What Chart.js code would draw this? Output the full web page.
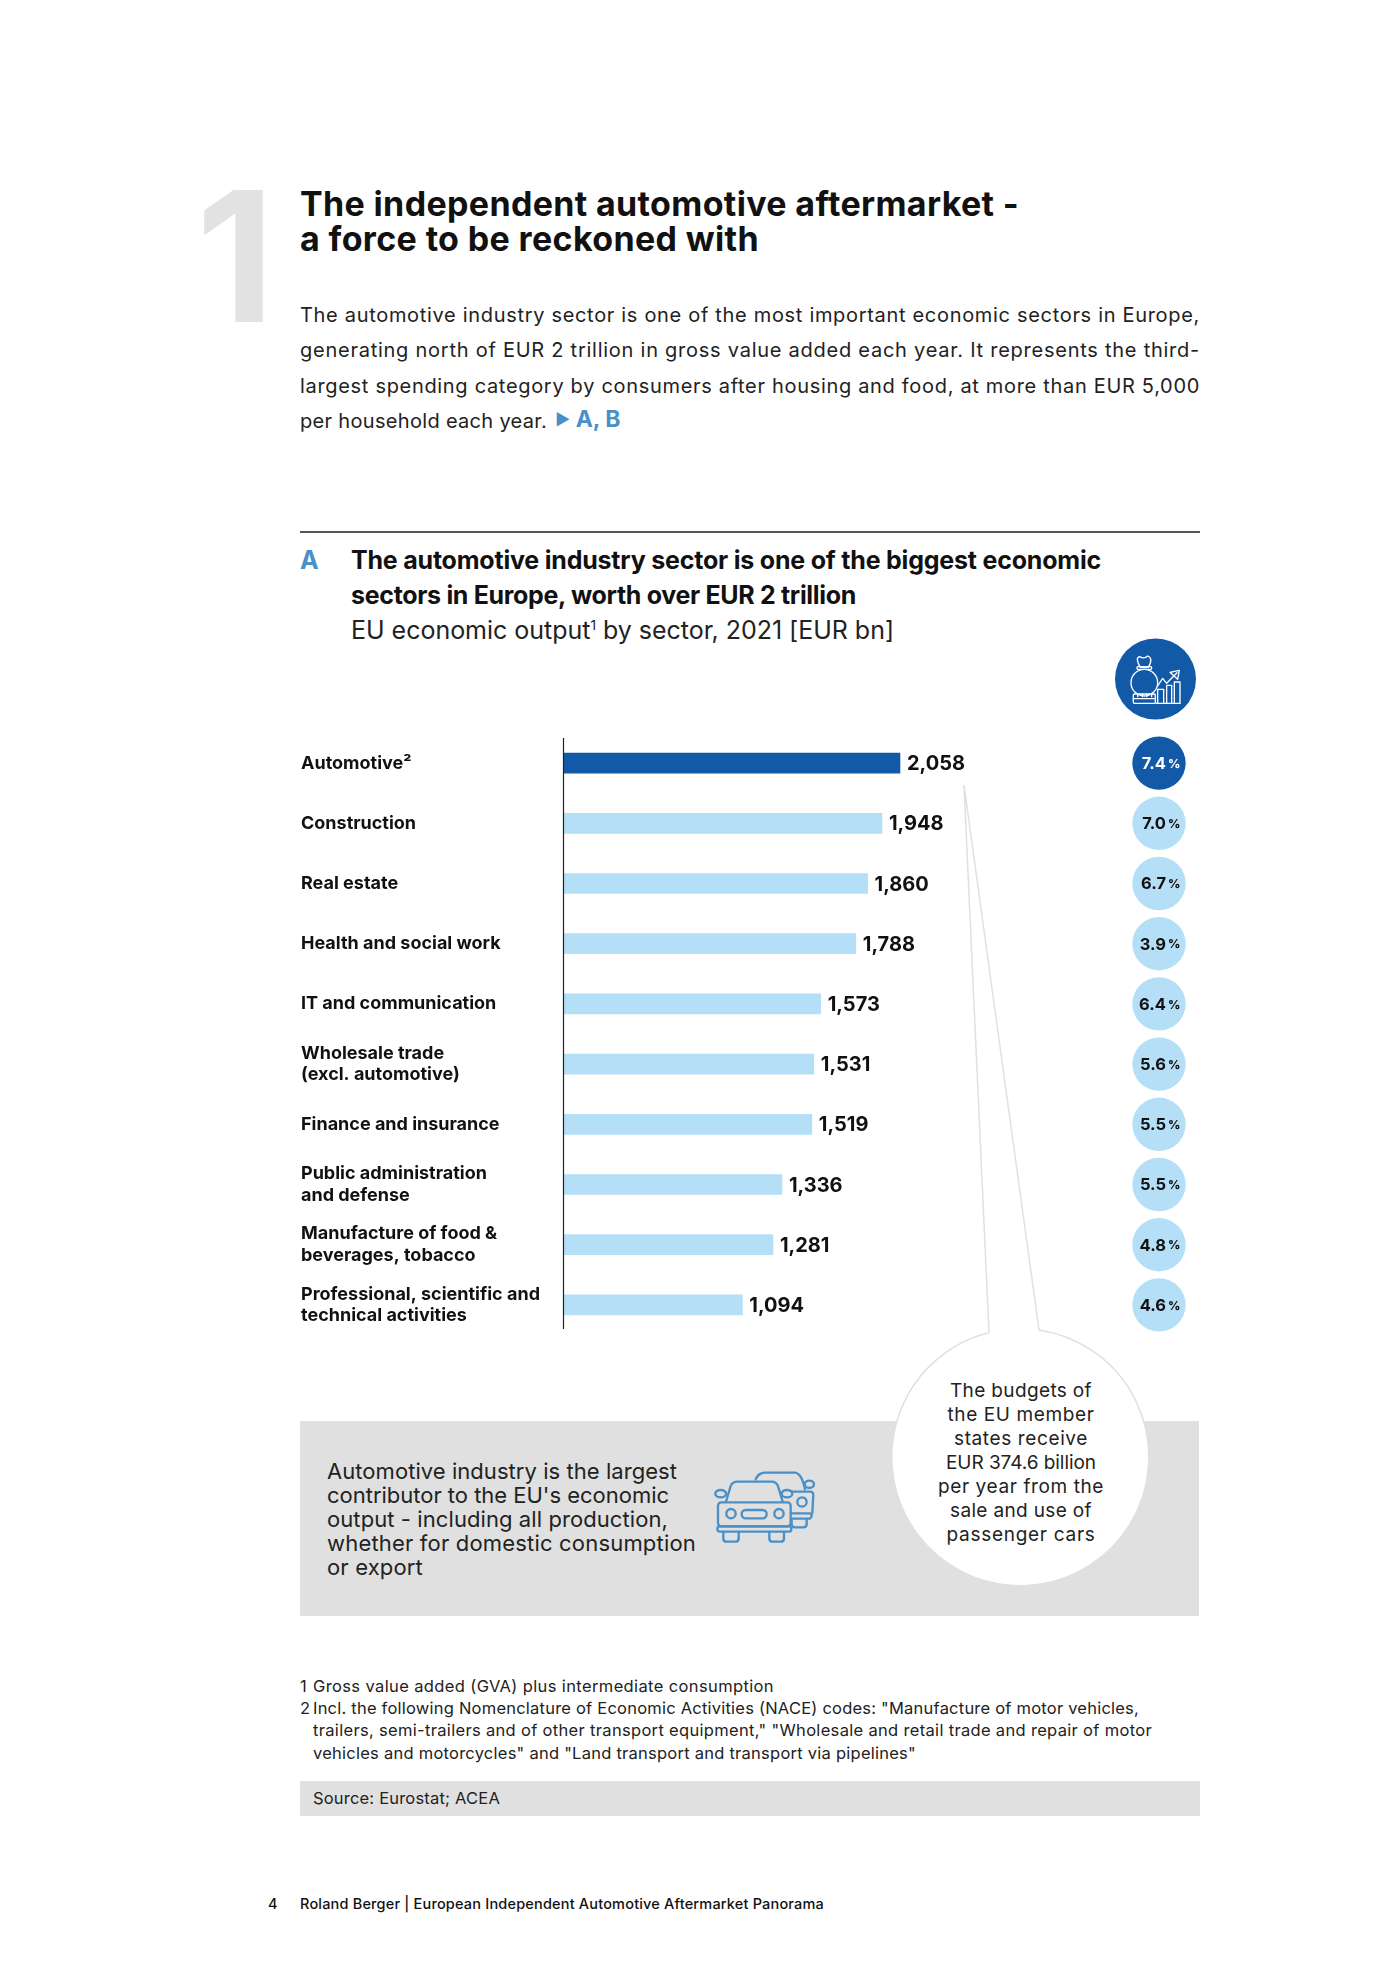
<!DOCTYPE html>
<html>
<head>
<meta charset="utf-8">
<script src="https://cdn.jsdelivr.net/npm/chart.js@4"></script>
<style>
html,body{margin:0;padding:0;background:#fff;}
body{width:1400px;height:1980px;position:relative;overflow:hidden;font-family:Inter,sans-serif;color:#222;}
.t{position:absolute;white-space:nowrap;line-height:1;transform:translateY(-50%);}
.c{transform:translate(-50%,-50%);}
.box{position:absolute;background:#e0e0e0;}
svg{position:absolute;left:0;top:0;}
canvas{position:absolute;left:290px;top:700px;}
sup{font-size:.55em;line-height:0;vertical-align:.6em;}
</style>
</head>
<body>

<div class="t" style="left:196px;top:256px;font-size:182px;font-weight:700;color:#e2e2e2" id="bigOne">1</div>

<div class="t" data-w="719" style="left:300px;top:204px;font-size:34px;font-weight:700;color:#111">The independent automotive aftermarket -</div>
<div class="t" data-w="459" style="left:300px;top:239px;font-size:34px;font-weight:700;color:#111">a force to be reckoned with</div>

<div class="t" data-w="900" style="left:300px;top:315px;font-size:20px">The automotive industry sector is one of the most important economic sectors in Europe,</div>
<div class="t" data-w="900" style="left:300px;top:350px;font-size:20px">generating north of EUR 2 trillion in gross value added each year. It represents the third-</div>
<div class="t" data-w="900" style="left:300px;top:385.5px;font-size:20px">largest spending category by consumers after housing and food, at more than EUR 5,000</div>
<div class="t" data-w="247" style="left:300px;top:420.5px;font-size:20px">per household each year.</div>
<div class="t" style="left:555px;top:419px;font-size:23px;font-weight:700;color:#4a90c8"><span style="font-size:16px;vertical-align:2px">&#9654;</span> A, B</div>

<div style="position:absolute;left:300px;top:531px;width:900px;height:1.5px;background:#555"></div>
<div class="t" style="left:300px;top:560px;font-size:25px;font-weight:700;color:#4a90c8">A</div>
<div class="t" data-w="750" style="left:351px;top:560px;font-size:25px;font-weight:700;color:#111">The automotive industry sector is one of the biggest economic</div>
<div class="t" data-w="505" style="left:351px;top:595px;font-size:25px;font-weight:700;color:#111">sectors in Europe, worth over EUR 2 trillion</div>
<div class="t" data-w="543" style="left:351px;top:630px;font-size:25px">EU economic output<sup>1</sup> by sector, 2021 [EUR bn]</div>

<div class="box" style="left:300px;top:1421px;width:899px;height:195px"></div>
<div class="t" data-w="350" style="left:327px;top:1470.5px;font-size:22px">Automotive industry is the largest</div>
<div class="t" data-w="342" style="left:327px;top:1494.5px;font-size:22px">contributor to the EU's economic</div>
<div class="t" data-w="341" style="left:327px;top:1518.5px;font-size:22px">output - including all production,</div>
<div class="t" data-w="369" style="left:327px;top:1542.5px;font-size:22px">whether for domestic consumption</div>
<div class="t" data-w="96" style="left:327px;top:1566.5px;font-size:22px">or export</div>

<svg width="1400" height="1980" fill="none">
  <!-- callout -->
  <path d="M964 785 L989 1332.5 A128.5 128.5 0 1 0 1039 1330 Z" fill="#fff" stroke="#e0e0e0" stroke-width="1.5"/>
  <!-- money icon -->
  <circle cx="1155.5" cy="679" r="40.5" fill="#1259a8"/>
  <g transform="translate(1001,620) scale(0.3333)" stroke="#fff" stroke-width="4" stroke-linejoin="round" stroke-linecap="round">
    <circle cx="430" cy="188" r="40"/>
    <path d="M418 142 Q402 115 415 110 Q430 118 440 108 Q458 115 442 142 Z"/>
    <rect x="408" y="140" width="44" height="8" rx="3"/>
    <rect x="397" y="222" width="66" height="28" rx="3"/>
    <path d="M397 236 H463 M410 222 V230 M424 222 V230 M438 222 V230 M452 222 V230"/>
    <path d="M470 250 V208 H488 V250 M497 250 V196 H512 V250 M520 250 V186 H537 V250 M465 250 H538"/>
    <path d="M470 198 L485 175 L497 190 L528 158"/>
    <path d="M507 157 L535 151 L530 178 Z"/>
  </g>
  <!-- car icon -->
  <g transform="translate(690,1450) scale(0.3333)" stroke="#4a90c8" stroke-width="7" stroke-linejoin="round" stroke-linecap="round">
    <path d="M108 155 L122 108 Q128 95 142 95 H245 Q258 95 264 108 L278 155"/>
    <rect x="84" y="157" width="218" height="72" rx="10"/>
    <rect x="82" y="229" width="222" height="16" rx="8"/>
    <path d="M100 246 V266 Q100 275 110 275 H136 Q146 275 146 266 V246 M238 246 V266 Q238 275 248 275 H272 Q282 275 282 266 V246"/>
    <ellipse cx="92" cy="131" rx="16" ry="11"/>
    <ellipse cx="291" cy="131" rx="16" ry="11"/>
    <circle cx="123" cy="191" r="14"/>
    <circle cx="267" cy="191" r="14"/>
    <rect x="155" y="180" width="75" height="25" rx="12"/>
    <path d="M197 88 Q205 68 225 68 H315 Q335 70 345 118"/>
    <ellipse cx="358" cy="103" rx="14" ry="11"/>
    <path d="M305 125 H360 Q370 125 370 135 L367 190"/>
    <circle cx="336" cy="156" r="14"/>
    <path d="M305 190 H360 Q370 198 360 206 H305"/>
    <path d="M305 207 V223 Q305 232 315 232 H340 Q350 232 350 223 V207"/>
  </g>
</svg>

<div class="t c" data-w="142" style="left:1021px;top:1390px;font-size:19px">The budgets of</div>
<div class="t c" data-w="147" style="left:1021px;top:1414px;font-size:19px">the EU member</div>
<div class="t c" data-w="134" style="left:1021px;top:1438px;font-size:19px">states receive</div>
<div class="t c" data-w="150" style="left:1021px;top:1462px;font-size:19px">EUR 374.6 billion</div>
<div class="t c" data-w="166" style="left:1021px;top:1486px;font-size:19px">per year from the</div>
<div class="t c" data-w="142" style="left:1021px;top:1510px;font-size:19px">sale and use of</div>
<div class="t c" data-w="149" style="left:1021px;top:1534px;font-size:19px">passenger cars</div>

<div class="t" style="left:300px;top:1685.5px;font-size:16.5px">1</div>
<div class="t" data-w="461" style="left:313px;top:1685.5px;font-size:16.5px">Gross value added (GVA) plus intermediate consumption</div>
<div class="t" style="left:300px;top:1707.5px;font-size:16.5px">2</div>
<div class="t" data-w="826" style="left:313px;top:1707.5px;font-size:16.5px">Incl. the following Nomenclature of Economic Activities (NACE) codes: "Manufacture of motor vehicles,</div>
<div class="t" data-w="839" style="left:313px;top:1730px;font-size:16.5px">trailers, semi-trailers and of other transport equipment," "Wholesale and retail trade and repair of motor</div>
<div class="t" data-w="603" style="left:313px;top:1752.5px;font-size:16.5px">vehicles and motorcycles" and "Land transport and transport via pipelines"</div>

<div class="box" style="left:300px;top:1781px;width:900px;height:35px"></div>
<div class="t" data-w="187" style="left:313px;top:1798px;font-size:16.5px">Source: Eurostat; ACEA</div>

<div class="t" style="left:268px;top:1904px;font-size:14.5px;font-weight:500;color:#111">4</div>
<div class="t" data-w="524" style="left:300px;top:1904px;font-size:14.5px;font-weight:500;color:#111">Roland Berger | European Independent Automotive Aftermarket Panorama</div>

<canvas id="chart" width="900" height="660"></canvas>

<script>
const categories=[
'Automotive\u00B2',
'Construction',
'Real estate',
'Health and social work',
'IT and communication',
['Wholesale trade','(excl. automotive)'],
'Finance and insurance',
['Public administration','and defense'],
['Manufacture of food &','beverages, tobacco'],
['Professional, scientific and','technical activities']
];
const outputValues=[2058,1948,1860,1788,1573,1531,1519,1336,1281,1094];
const shareValues=[7.4,7.0,6.7,3.9,6.4,5.6,5.5,5.5,4.8,4.6];

const darkBlue='#1259a8';
const lightBlue='#b5dff7';
const fontName='Inter, sans-serif';

// stretch text lines to the width they have in the page
document.querySelectorAll('[data-w]').forEach(el=>
{
const n=el.textContent.length;
const w=el.getBoundingClientRect().width;
el.style.letterSpacing=((parseFloat(el.dataset.w)-w)/n)+'px';
});

const barExtras=
{
id:'barExtras',
afterDatasetsDraw(chart)
{
const c=chart.ctx;
const xs=chart.scales.x;
const ys=chart.scales.y;
const bars=chart.getDatasetMeta(0).data;

// axis line, a bit shorter than the plot area
c.save();
c.strokeStyle='#222';
c.lineWidth=1.2;
c.beginPath();
c.moveTo(xs.getPixelForValue(0),ys.top+5);
c.lineTo(xs.getPixelForValue(0),ys.bottom-6);
c.stroke();

c.textBaseline='middle';
outputValues.forEach((v,i)=>
{
const y=bars[i].y;
c.font='700 20px '+fontName;
c.fillStyle='#111';
c.textAlign='left';
c.fillText(v.toLocaleString('en-US'),bars[i].x+7,y+1);

// share badge
const bx=869;
c.beginPath();
c.arc(bx,y,26.7,0,Math.PI*2);
c.fillStyle=i===0?darkBlue:lightBlue;
c.fill();
c.fillStyle=i===0?'#fff':'#111';
c.font='700 16.5px '+fontName;
c.textAlign='right';
c.fillText(shareValues[i].toFixed(1),bx+7,y+1);
c.font='800 12px '+fontName;
c.textAlign='left';
c.fillText('%',bx+9,y+1);
});
c.restore();
}
};

new Chart(document.getElementById('chart'),
{
type:'bar',
data:{
labels:categories,
datasets:[{
data:outputValues,
backgroundColor:outputValues.map((_,i)=>i===0?darkBlue:lightBlue),
barThickness:20,
borderWidth:0
}]
},
options:{
indexAxis:'y',
responsive:false,
animation:false,
layout:{padding:{left:11,top:33,bottom:25,right:0}},
plugins:{legend:{display:false},tooltip:{enabled:false}},
scales:{
x:{display:false,min:0,max:3832},
y:{
grid:{display:false},
border:{display:false},
afterFit:s=>{s.width=262.5;},
ticks:{
autoSkip:false,
crossAlign:'far',
color:'#111',
font:{family:fontName,size:18,weight:'700',lineHeight:1.18}
}
}
}
},
plugins:[barExtras]
});
</script>
</body>
</html>
